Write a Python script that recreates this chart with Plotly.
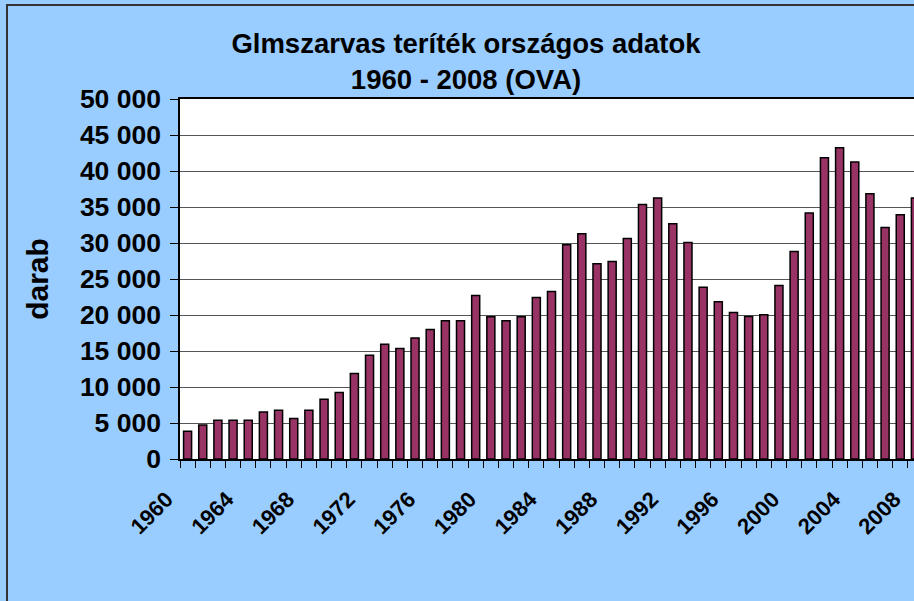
import plotly.graph_objects as go

years = list(range(1960, 2009))
darab = [3850, 4730, 5380, 5380, 5380, 6530, 6770, 5610, 6770, 8300,
         9220, 11860, 14410, 15940, 15340, 16820, 17980, 19190, 19190, 22710,
         19740, 19190, 19740, 22430, 23260, 29750, 31280, 27110, 27430, 30630,
         35360, 36240, 32670, 30070, 23870, 21830, 20340, 19790, 20020, 24100,
         28820, 34150, 41840, 43240, 41240, 36840, 32160, 33920, 36240]
tick_years = list(range(1960, 2009, 4))

title_text = "Glmszarvas teríték országos adatok<br>1960 - 2008 (OVA)"
y_title = "darab"

W, H = 923, 601
L, R, T, B = 180, 0, 99, 142
plot_w = W - L - R
plot_h = H - T - B

fig = go.Figure(go.Bar(
    x=years, y=darab,
    marker=dict(color="#993366", line=dict(color="black", width=1.5)),
))

fnt = "Arial, Liberation Sans, sans-serif"

fig.update_layout(
    width=W, height=H,
    margin=dict(l=L, r=R, t=T, b=B, autoexpand=False),
    paper_bgcolor="#99CCFF",
    plot_bgcolor="white",
    bargap=0.47,
    showlegend=False,
    separators=", ",
    font=dict(family=fnt, color="black"),
    title=dict(text=title_text, x=466 / W, xanchor="center", xref="container",
               y=1 - 53 / H, yanchor="middle", yref="container",
               font=dict(size=27.5, family=fnt, weight="bold")),
    shapes=[dict(type="rect", xref="paper", yref="paper",
                 x0=(7 - L) / plot_w, x1=(W + 20 - L) / plot_w,
                 y0=-(B + 20) / plot_h, y1=1 + (T - 5) / plot_h,
                 line=dict(color="#333", width=2), layer="below")],
)

fig.update_xaxes(
    range=[1959.5, 2008.5],
    tickmode="array", tickvals=tick_years,
    ticks="", tickangle=-45,
    tickfont=dict(size=22, family=fnt, weight="bold"),
    ticklabelstandoff=17, ticklabelshift=-21,
    showgrid=False, zeroline=False,
    showline=True, linecolor="black", linewidth=1.5, mirror=True,
    minor=dict(ticks="outside", tick0=1959.5, dtick=1, ticklen=7,
               tickcolor="black", tickwidth=1, showgrid=False),
)

fig.update_yaxes(
    range=[0, 50000], dtick=5000, tickformat=",d",
    ticks="outside", ticklen=8, tickcolor="black",
    tickfont=dict(size=26.5, family=fnt, weight="bold"),
    ticklabelstandoff=4,
    showgrid=True, gridcolor="#555", gridwidth=1,
    zeroline=False,
    showline=True, linecolor="black", linewidth=1.5,
    title=dict(text=y_title, standoff=22,
               font=dict(size=30, family=fnt, weight="bold")),
)

# page margin off, so the chart starts at the window corner
fig.write_html("out.html", config={"displayModeBar": False},
               post_script="document.body.style.margin='0';document.body.style.overflow='hidden';")
